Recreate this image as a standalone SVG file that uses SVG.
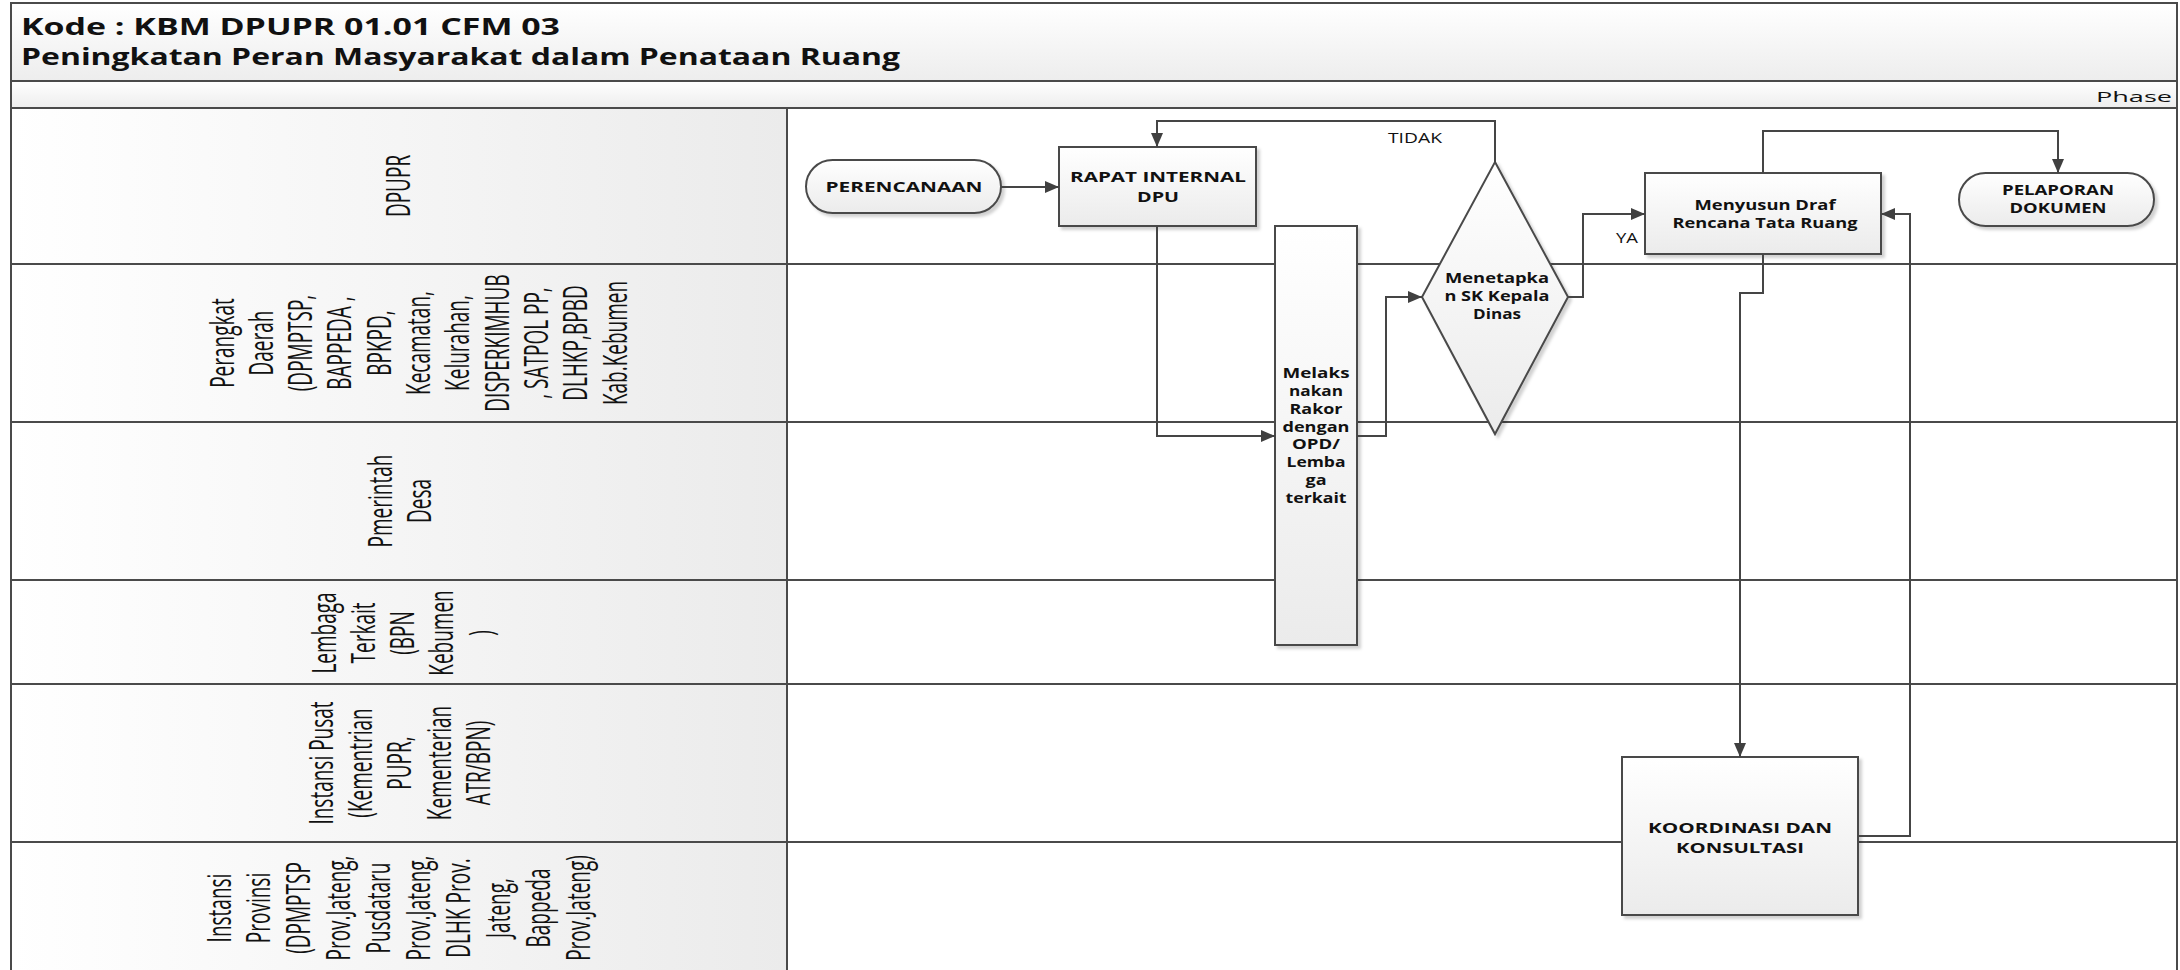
<svg xmlns="http://www.w3.org/2000/svg" width="2180" height="970" viewBox="0 0 2180 970">
<style>
.frame{fill:none;stroke:#4a4a4a;stroke-width:2}
.lane{stroke:#4a4a4a;stroke-width:2;fill:none}
.node{fill:url(#gNode);stroke:#4a4a4a;stroke-width:2;filter:url(#sh)}
.t{font-family:"Open Sans","Liberation Sans",sans-serif;font-weight:bold;font-size:15px;fill:#111;text-anchor:middle}
.tm{font-family:"Open Sans","Liberation Sans",sans-serif;font-weight:bold;font-size:13.5px;fill:#111;text-anchor:middle}
.lbl{font-family:"Open Sans","Liberation Sans",sans-serif;font-size:14px;fill:#111}
.ln{font-family:"Open Sans","Liberation Sans",sans-serif;font-size:19px;fill:#111;text-anchor:middle}
.title{font-family:"Open Sans","Liberation Sans",sans-serif;font-weight:bold;font-size:23px;fill:#111}
.arrow{fill:none;stroke:#454545;stroke-width:2;marker-end:url(#arr)}
</style>
<defs>
<linearGradient id="gHdr" x1="0" y1="0" x2="0" y2="1"><stop offset="0" stop-color="#ffffff"/><stop offset="1" stop-color="#ededed"/></linearGradient>
<linearGradient id="gLane" x1="0" y1="0" x2="1" y2="0"><stop offset="0" stop-color="#ffffff"/><stop offset="1" stop-color="#ebebeb"/></linearGradient>
<linearGradient id="gNode" x1="0" y1="0" x2="0" y2="1"><stop offset="0" stop-color="#ffffff"/><stop offset="1" stop-color="#ebebeb"/></linearGradient>
<filter id="sh" x="-10%" y="-10%" width="130%" height="130%"><feDropShadow dx="3" dy="3" stdDeviation="1.5" flood-color="#000" flood-opacity="0.18"/></filter>
<marker id="arr" markerUnits="userSpaceOnUse" markerWidth="14" markerHeight="12" viewBox="0 0 14 12" refX="14" refY="6" orient="auto"><path d="M0,0 L14,6 L0,12 z" fill="#404040"/></marker>
</defs>
<rect width="2180" height="970" fill="#ffffff"/>
<g id="header">
<rect x="11" y="3" width="2166" height="78" fill="url(#gHdr)"/>
<rect x="11" y="81" width="2166" height="27" fill="url(#gHdr)"/>
<text class="title" x="21" y="35" textLength="539" lengthAdjust="spacingAndGlyphs">Kode : KBM DPUPR 01.01 CFM 03</text>
<text class="title" x="21" y="65" textLength="879" lengthAdjust="spacingAndGlyphs">Peningkatan Peran Masyarakat dalam Penataan Ruang</text>
<text class="lbl" x="2096" y="102" font-size="17" textLength="76" lengthAdjust="spacingAndGlyphs">Phase</text>
</g>
<g id="lanes">
<rect x="11" y="108" width="776" height="862" fill="url(#gLane)"/>
<path class="frame" d="M11,970 V3 H2177 V970"/>
<path class="lane" d="M11,81 H2177 M11,108 H2177 M787,108 V970 M11,264 H2177 M11,422 H2177 M11,580 H2177 M11,684 H2177 M11,842 H2177"/>
<g id="lane-dpupr"><text class="ln" transform="translate(410,186) scale(1.7,1) rotate(-90)">DPUPR</text></g>
<g id="lane-perangkat-daerah"><text class="ln" transform="translate(233.5,343) scale(1.7,1) rotate(-90)"><tspan x="0" y="0">Perangkat</tspan><tspan x="0" y="23.12">Daerah</tspan><tspan x="0" y="46.24">(DPMPTSP,</tspan><tspan x="0" y="69.36">BAPPEDA ,</tspan><tspan x="0" y="92.48">BPKPD,</tspan><tspan x="0" y="115.6">Kecamatan,</tspan><tspan x="0" y="138.72">Kelurahan,</tspan><tspan x="0" y="161.84">DISPERKIMHUB</tspan><tspan x="0" y="184.96">, SATPOL PP,</tspan><tspan x="0" y="208.08">DLHKP,BPBD</tspan><tspan x="0" y="231.2">Kab.Kebumen</tspan></text></g>
<g id="lane-pemerintah-desa"><text class="ln" transform="translate(391.5,501) scale(1.7,1) rotate(-90)"><tspan x="0" y="0">Pmerintah</tspan><tspan x="0" y="23.5">Desa</tspan></text></g>
<g id="lane-lembaga"><text class="ln" transform="translate(335.5,633) scale(1.7,1) rotate(-90)"><tspan x="0" y="0">Lembaga</tspan><tspan x="0" y="23.12">Terkait</tspan><tspan x="0" y="46.24">(BPN</tspan><tspan x="0" y="69.36">Kebumen</tspan><tspan x="0" y="92.48">)</tspan></text></g>
<g id="lane-instansi-pusat"><text class="ln" transform="translate(332.5,763) scale(1.7,1) rotate(-90)"><tspan x="0" y="0">Instansi Pusat</tspan><tspan x="0" y="23.2">(Kementrian</tspan><tspan x="0" y="46.4">PUPR,</tspan><tspan x="0" y="69.6">Kementerian</tspan><tspan x="0" y="92.8">ATR/BPN)</tspan></text></g>
<g id="lane-instansi-provinsi"><text class="ln" transform="translate(230.5,908) scale(1.7,1) rotate(-90)"><tspan x="0" y="0">Instansi</tspan><tspan x="0" y="23.5">Provinsi</tspan><tspan x="0" y="47">(DPMPTSP</tspan><tspan x="0" y="70.5">Prov.Jateng,</tspan><tspan x="0" y="94">Pusdataru</tspan><tspan x="0" y="117.5">Prov.Jateng,</tspan><tspan x="0" y="141">DLHK Prov.</tspan><tspan x="0" y="164.5">Jateng,</tspan><tspan x="0" y="188">Bappeda</tspan><tspan x="0" y="211.5">Prov.Jateng)</tspan></text></g>
</g>
<g id="n-perencanaan"><rect class="node" x="806" y="160" width="195" height="53" rx="26.5"/><text class="t" x="904" y="192" textLength="157" lengthAdjust="spacingAndGlyphs">PERENCANAAN</text></g>
<g id="n-rapat"><rect class="node" x="1059" y="147" width="197" height="79"/><text class="t" x="1158" y="182" textLength="176" lengthAdjust="spacingAndGlyphs">RAPAT INTERNAL</text><text class="t" x="1158" y="202" textLength="42" lengthAdjust="spacingAndGlyphs">DPU</text></g>
<g id="n-melaksanakan"><rect class="node" x="1275" y="226" width="82" height="419"/>
<text class="tm" x="1316" y="378" textLength="67" lengthAdjust="spacingAndGlyphs">Melaks</text><text class="tm" x="1316" y="396" textLength="54" lengthAdjust="spacingAndGlyphs">nakan</text><text class="tm" x="1316" y="414" textLength="53" lengthAdjust="spacingAndGlyphs">Rakor</text><text class="tm" x="1316" y="432" textLength="67" lengthAdjust="spacingAndGlyphs">dengan</text><text class="tm" x="1316" y="449" textLength="48" lengthAdjust="spacingAndGlyphs">OPD/</text><text class="tm" x="1316" y="467" textLength="59" lengthAdjust="spacingAndGlyphs">Lemba</text><text class="tm" x="1316" y="485" textLength="21" lengthAdjust="spacingAndGlyphs">ga</text><text class="tm" x="1316" y="503" textLength="61" lengthAdjust="spacingAndGlyphs">terkait</text></g>
<g id="n-menetapkan"><polygon class="node" points="1495,162 1568,297 1495,434 1422,297"/><text class="tm" x="1497" y="283" textLength="104" lengthAdjust="spacingAndGlyphs">Menetapka</text><text class="tm" x="1497" y="301" textLength="105" lengthAdjust="spacingAndGlyphs">n SK Kepala</text><text class="tm" x="1497" y="319" textLength="48" lengthAdjust="spacingAndGlyphs">Dinas</text></g>
<g id="n-menyusun"><rect class="node" x="1645" y="173" width="236" height="81"/><text class="t" x="1765" y="210" textLength="141" lengthAdjust="spacingAndGlyphs">Menyusun Draf</text><text class="t" x="1765" y="228" textLength="185" lengthAdjust="spacingAndGlyphs">Rencana Tata Ruang</text></g>
<g id="n-pelaporan"><rect class="node" x="1959" y="173" width="195" height="53" rx="26.5"/><text class="t" x="2058" y="195" textLength="112" lengthAdjust="spacingAndGlyphs">PELAPORAN</text><text class="t" x="2058" y="213" textLength="97" lengthAdjust="spacingAndGlyphs">DOKUMEN</text></g>
<g id="n-koordinasi"><rect class="node" x="1622" y="757" width="236" height="158"/><text class="t" x="1740" y="833" textLength="184" lengthAdjust="spacingAndGlyphs">KOORDINASI DAN</text><text class="t" x="1740" y="853" textLength="128" lengthAdjust="spacingAndGlyphs">KONSULTASI</text></g>
<g id="connectors">
<path class="arrow" d="M1001,187 H1059"/>
<path class="arrow" d="M1157,226 V436 H1275"/>
<path class="arrow" d="M1357,436 H1386 V297 H1422"/>
<path class="arrow" d="M1495,162 V121 H1157 V147"/>
<path class="arrow" d="M1568,297 H1583 V214 H1645"/>
<path class="arrow" d="M1763,173 V131 H2058 V173"/>
<path class="arrow" d="M1763,254 V293 H1740 V757"/>
<path class="arrow" d="M1858,836 H1910 V214 H1881"/>
<text class="lbl" x="1388" y="143" textLength="54" lengthAdjust="spacingAndGlyphs">TIDAK</text>
<text class="lbl" x="1616" y="243" textLength="22" lengthAdjust="spacingAndGlyphs">YA</text>
</g>
</svg>
